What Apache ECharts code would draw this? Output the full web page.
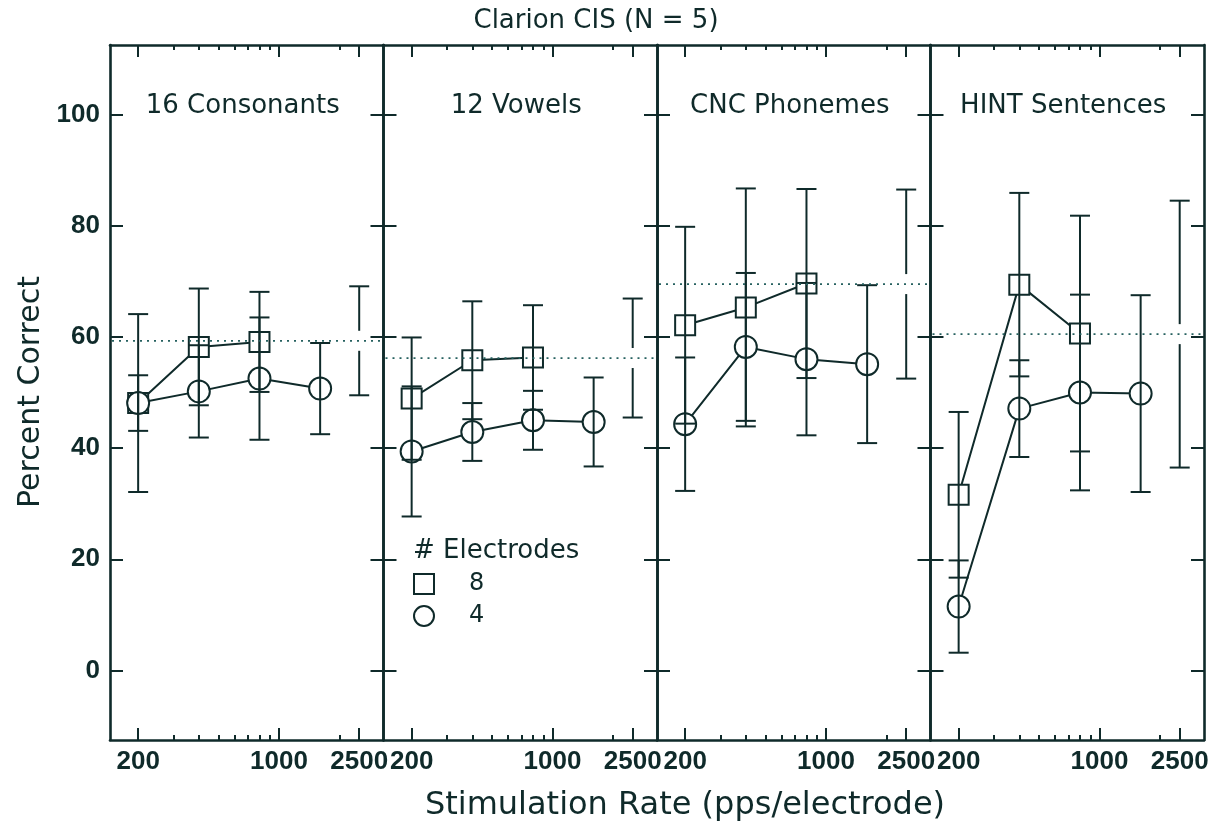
<!DOCTYPE html>
<html><head><meta charset="utf-8">
<script src="https://cdn.jsdelivr.net/npm/echarts@6/dist/echarts.min.js"></script>
<style>html,body{margin:0;padding:0;background:#fff}#c{width:1212px;height:824px}</style>
</head><body><div id="c"></div>
<script>
// ---------- data ----------
const panelTitles = ['16 Consonants', '12 Vowels', 'CNC Phonemes', 'HINT Sentences'];
const rates8 = [200, 400, 800];
const rates4 = [200, 400, 800, 1600];
const refRate = 2500;
const xMajorTicks = [200, 1000, 2500];
const xMinorTicks = [300, 400, 500, 600, 700, 800, 900, 2000];
const yTicks = [0, 20, 40, 60, 80, 100];

const consonants8 = [48.1, 58.2, 59.1];
const consonants8Sd = [5, 10.5, 9];
const consonants4 = [48.1, 50.2, 52.5, 50.7];
const consonants4Sd = [16, 8.3, 11, 8.2];

const vowels8 = [48.9, 55.8, 56.3];
const vowels8Sd = [11, 10.6, 9.4];
const vowels4 = [39.4, 42.9, 45.0, 44.7];
const vowels4Sd = [11.7, 5.2, 5.3, 8];

const cnc8 = [62.1, 65.3, 69.6];
const cnc8Sd = [17.7, 21.4, 17];
const cnc4 = [44.3, 58.2, 56.0, 55.1];
const cnc4Sd = [12, 13.3, 13.7, 14.2];

const hint8 = [31.6, 69.4, 60.6];
const hint8Sd = [14.9, 16.5, 21.2];
const hint4 = [11.5, 47.1, 50.0, 49.8];
const hint4Sd = [8.3, 8.7, 17.6, 17.7];

const refMean = [59.3, 56.2, 69.5, 60.5];
const refSd = [9.8, 10.7, 17, 24];

// ---------- layout / style ----------
const INK = '#0f2a2a';
const DOT = '#25605f';
const GL = 110, PW = 273.5, GT = 45, GH = 695;
const XMIN = 145, XMAX = 3300, YMIN = -12.5, YMAX = 112.5;

const means8 = [consonants8, vowels8, cnc8, hint8];
const sds8 = [consonants8Sd, vowels8Sd, cnc8Sd, hint8Sd];
const means4 = [consonants4, vowels4, cnc4, hint4];
const sds4 = [consonants4Sd, vowels4Sd, cnc4Sd, hint4Sd];

function seg(x1, y1, x2, y2, extra) {
  return Object.assign({type: 'line', shape: {x1, y1, x2, y2},
    style: {stroke: INK, lineWidth: 2}}, extra || {});
}

function errRender(params, api) {
  const x = api.value(0), m = api.value(1), s = api.value(2);
  const t = api.coord([x, m + s]), b = api.coord([x, m - s]);
  const hw = 10;
  return {type: 'group', children: [
    seg(t[0], t[1], b[0], b[1]),
    seg(t[0] - hw, t[1], t[0] + hw, t[1]),
    seg(b[0] - hw, b[1], b[0] + hw, b[1])
  ]};
}

function refRender(params, api) {
  const x = api.value(0), m = api.value(1), s = api.value(2);
  const c = api.coord([x, m]);
  const t = api.coord([x, m + s]), b = api.coord([x, m - s]);
  const cs = params.coordSys;
  const hw = 10, gap = 10;
  return {type: 'group', children: [
    {type: 'line', shape: {x1: cs.x + 2, y1: c[1], x2: cs.x + cs.width - 2, y2: c[1]},
      style: {stroke: DOT, lineWidth: 1.7, lineDash: [2, 5]}},
    seg(t[0], t[1], t[0], c[1] - gap),
    seg(b[0], c[1] + gap, b[0], b[1]),
    seg(t[0] - hw, t[1], t[0] + hw, t[1]),
    seg(b[0] - hw, b[1], b[0] + hw, b[1])
  ]};
}

const grids = [], xAxes = [], yAxes = [], series = [], graphics = [];
const labelFont = {fontFamily: 'Liberation Sans', fontWeight: 'bold', fontSize: 26, color: INK};
const plainNum = v => String(v);

for (let i = 0; i < 4; i++) {
  grids.push({left: GL + i * PW, top: GT, width: PW, height: GH});
  const base = {gridIndex: i, type: 'log', logBase: 10, min: XMIN, max: XMAX,
    splitLine: {show: false}};
  const line = {show: true, onZero: false, lineStyle: {color: INK, width: 2.6}};
  const noLine = {show: false, onZero: false};
  // bottom major
  xAxes.push(Object.assign({}, base, {position: 'bottom', axisLine: line,
    axisTick: {show: true, inside: true, length: 12, customValues: xMajorTicks, lineStyle: {color: INK, width: 2}},
    axisLabel: Object.assign({show: true, margin: 9, customValues: xMajorTicks, formatter: plainNum}, labelFont)}));
  // bottom minor
  xAxes.push(Object.assign({}, base, {position: 'bottom', axisLine: noLine,
    axisTick: {show: true, inside: true, length: 5, customValues: xMinorTicks, lineStyle: {color: INK, width: 2}},
    axisLabel: {show: false}}));
  // top major
  xAxes.push(Object.assign({}, base, {position: 'top', axisLine: line,
    axisTick: {show: true, inside: true, length: 12, customValues: xMajorTicks, lineStyle: {color: INK, width: 2}},
    axisLabel: {show: false}}));
  // top minor
  xAxes.push(Object.assign({}, base, {position: 'top', axisLine: noLine,
    axisTick: {show: true, inside: true, length: 5, customValues: xMinorTicks, lineStyle: {color: INK, width: 2}},
    axisLabel: {show: false}}));

  const ybase = {gridIndex: i, type: 'value', min: YMIN, max: YMAX, splitLine: {show: false},
    axisLine: line,
    axisTick: {show: true, inside: true, length: 13, customValues: yTicks, lineStyle: {color: INK, width: 2}}};
  yAxes.push(Object.assign({}, ybase, {position: 'left',
    axisLabel: i === 0 ? Object.assign({show: true, margin: 10, customValues: yTicks, formatter: plainNum}, labelFont) : {show: false}}));
  yAxes.push(Object.assign({}, ybase, {position: 'right', axisLabel: {show: false}}));

  const d8 = rates8.map((r, k) => [r, means8[i][k]]);
  const d4 = rates4.map((r, k) => [r, means4[i][k]]);
  series.push({name: '8', type: 'line', xAxisIndex: 4 * i, yAxisIndex: 2 * i, data: d8,
    symbol: 'rect', symbolSize: 20, z: 2, silent: true, animation: false,
    lineStyle: {color: INK, width: 2},
    itemStyle: {color: '#fff', borderColor: INK, borderWidth: 2}});
  series.push({name: '4', type: 'line', xAxisIndex: 4 * i, yAxisIndex: 2 * i, data: d4,
    symbol: 'circle', symbolSize: 22, z: 2, silent: true, animation: false,
    lineStyle: {color: INK, width: 2},
    itemStyle: {color: '#fff', borderColor: INK, borderWidth: 2}});
  const errs = rates8.map((r, k) => [r, means8[i][k], sds8[i][k]])
    .concat(rates4.map((r, k) => [r, means4[i][k], sds4[i][k]]));
  series.push({type: 'custom', xAxisIndex: 4 * i, yAxisIndex: 2 * i, data: errs,
    encode: {x: 0, y: 1}, renderItem: errRender, z: 3, silent: true, animation: false});
  series.push({type: 'custom', xAxisIndex: 4 * i, yAxisIndex: 2 * i,
    data: [[refRate, refMean[i], refSd[i]]],
    encode: {x: 0, y: 1}, renderItem: refRender, z: 3, silent: true, animation: false});

  graphics.push({type: 'text', x: GL + i * PW + PW / 2 - 4, y: 106,
    style: {text: panelTitles[i], textAlign: 'center', textVerticalAlign: 'middle',
      font: 'normal 26px "DejaVu Sans"', fill: INK}});
}

graphics.push({type: 'text', x: 596, y: 21,
  style: {text: 'Clarion CIS (N = 5)', textAlign: 'center', textVerticalAlign: 'middle',
    font: 'normal 26px "DejaVu Sans"', fill: INK}});
graphics.push({type: 'text', x: 685, y: 806,
  style: {text: 'Stimulation Rate (pps/electrode)', textAlign: 'center', textVerticalAlign: 'middle',
    font: 'normal 32px "DejaVu Sans"', fill: INK}});
graphics.push({type: 'text', x: 31, y: 392, rotation: Math.PI / 2,
  style: {text: 'Percent Correct', textAlign: 'center', textVerticalAlign: 'middle',
    font: 'normal 30px "DejaVu Sans"', fill: INK}});
graphics.push({type: 'text', x: 413, y: 551,
  style: {text: '# Electrodes', textAlign: 'left', textVerticalAlign: 'middle',
    font: 'normal 26px "DejaVu Sans"', fill: INK}});

const chart = echarts.init(document.getElementById('c'), null, {renderer: 'canvas'});
chart.setOption({
  backgroundColor: '#fff',
  animation: false,
  grid: grids,
  xAxis: xAxes,
  yAxis: yAxes,
  series: series,
  graphic: graphics,
  legend: {
    orient: 'vertical', left: 413, top: 572, padding: 0,
    itemWidth: 20, itemHeight: 20, itemGap: 8, selectedMode: false,
    data: [{name: '8', icon: 'rect'}, {name: '4', icon: 'circle'}],
    itemStyle: {color: '#fff', borderColor: INK, borderWidth: 2},
    textStyle: {fontFamily: 'DejaVu Sans', fontSize: 24, color: INK, padding: [0, 0, 0, 30]}
  }
});
</script></body></html>
